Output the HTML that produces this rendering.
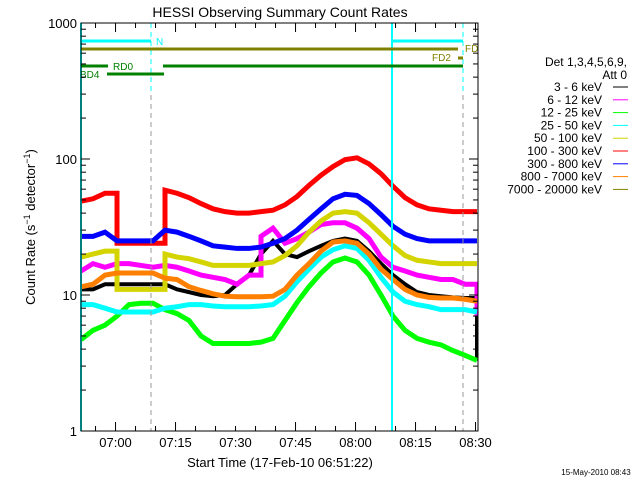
<!DOCTYPE html>
<html><head><meta charset="utf-8"><style>
body{margin:0;background:#fff;}
svg{display:block;font-family:"Liberation Sans",sans-serif;}
</style></head><body>
<svg id="chart" width="640" height="480" viewBox="0 0 640 480">
<rect width="640" height="480" fill="#fff"/>
<text x="280" y="17" font-size="14" text-anchor="middle">HESSI Observing Summary Count Rates</text>
<text transform="translate(35,227) rotate(-90)" font-size="13" text-anchor="middle">Count Rate (s<tspan baseline-shift="super" font-size="9">−1</tspan> detector<tspan baseline-shift="super" font-size="9">−1</tspan>)</text>
<text x="280" y="467" font-size="13" text-anchor="middle">Start Time (17-Feb-10 06:51:22)</text>
<text x="596" y="475" font-size="8" text-anchor="middle">15-May-2010 08:43</text>
<g id="plot"></g>
<g id="axes"></g>
<g id="legend"></g>
</svg>
<script>
const times=[0,3,6,9,12,15,18,21,24,27,30,33,36,39,42,45,48,51,54,57,60,63,66,69,72,75,78,81,84,87,90,93,96,99];
const seriesNames=["3 - 6 keV","6 - 12 keV","12 - 25 keV","25 - 50 keV","50 - 100 keV","100 - 300 keV","300 - 800 keV","800 - 7000 keV","7000 - 20000 keV"];
const seriesColors=["#000000","#ff00ff","#00ff00","#00ffff","#d4d400","#ff0000","#0000ff","#ff8000","#808000"];
const black=[11,11,12,12,12,12,12,12,11,10.5,10,9.8,10,12,14,20,25,20,19,21,23,25,26,25,21,17,14,12,10.5,10,9.8,9.6,9.5,3.3];
const magenta=[15,17,16,17,17,16.5,16,16.5,16,15,14,13.5,13,12,14,27,31,24,26,29,33,34,34,31,26,19,16,15,14,13.5,13,13,12,7];
const green=[4.7,5.5,6,7,8.5,8.7,8.7,7.8,7.3,6.5,5,4.4,4.4,4.4,4.4,4.5,4.8,6.5,8.8,11.5,14.5,17.5,18.7,17.5,14,10,7,5.5,4.8,4.5,4.3,3.9,3.6,3.3];
const cyan=[8.5,8.5,8,7.5,7.5,7.5,7.5,8,8.2,8.5,8.5,8.3,8.2,8.2,8.2,8.3,8.5,9.8,12.5,15.5,19,21.5,23,22,18,13.5,10.5,9,8.5,8.2,7.8,7.8,7.8,7.5];
const yellow=[19,20,21,11,11,11,11,20,19,18.5,17.5,16.5,16.5,16.5,16.5,17,17.5,19.5,23,29,35,40,41,40,34,28,23,19.5,18,17.5,17,17,17,17];
const red=[49,51,56,24,24,24,24,59,56,52,47,43,41,40,40,41,42,46,53,64,76,88,99,102,92,78,63,52,46,43,42,41,41,41];
const blue=[27,27,29,25,25,25,25,30,29,27,25,23,22.5,22,22,22.5,24,26,30,36,43,51,55,54,47,39,32,28,26,25,25,25,25,25];
const orange=[11.5,12,14,14.5,14.5,14.5,14.5,13.3,13,11.5,10.8,10.2,9.8,9.7,9.7,9.7,9.8,11,14,17,21,24.5,25,24,20,15.5,13,11,10,9.6,9.5,9.5,9.3,9];
const olive=[0.8,0.8,0.8,0.8,0.8,0.8,0.8,0.8,0.8,0.8,0.8,0.8,0.8,0.8,0.8,0.8,0.8,0.8,0.8,0.8,0.9,0.95,0.95,0.95,0.9,0.8,0.8,0.8,0.8,0.8,0.8,0.8,0.8,0.8];
const yTickVals=[1,10,100,1000];
const yTickLabels=["1","10","100","1000"];
const xTickMinutes=[8.633,23.633,38.633,53.633,68.633,83.633,98.633];
const xTickLabels=["07:00","07:15","07:30","07:45","08:00","08:15","08:30"];

const X0=81,X1=478,Y0=431,Y1=23,PXMIN=4,DEC=136;
const NS="http://www.w3.org/2000/svg";
function xs(t){return X0+t*PXMIN;}
function ys(v){return Y0-Math.log10(v)*DEC;}
function mk(tag,attrs,parent){const e=document.createElementNS(NS,tag);for(const k in attrs)e.setAttribute(k,attrs[k]);parent.appendChild(e);return e;}
const plot=document.getElementById('plot'),axes=document.getElementById('axes'),leg=document.getElementById('legend');
const defs=mk('defs',{},plot);const cp=mk('clipPath',{id:'cp'},defs);mk('rect',{x:X0,y:Y1,width:X1-X0,height:Y0-Y1},cp);
const g=mk('g',{'clip-path':'url(#cp)'},plot);
const allSeries=[black,magenta,green,cyan,yellow,red,blue,orange,olive];
allSeries.forEach((s,i)=>{
  let d='';
  for(let k=0;k<s.length;k++){
    const x=xs(times[k]),y=ys(s[k]);
    if(k===0)d+='M'+x+','+y;
    else{
      if(Math.abs(Math.log10(s[k]/s[k-1]))>0.2)d+='L'+x+','+ys(s[k-1])+'L'+x+','+y;
      else d+='L'+x+','+y;
    }
  }
  const p=mk('path',{d:d,fill:'none',stroke:seriesColors[i],'stroke-width':i===0?4:5,'stroke-linejoin':'miter'},g);
  
  
});
const v1=mk('line',{x1:392,y1:Y1,x2:392,y2:Y0,stroke:'#00ffff','stroke-width':2},plot);


const v0=mk('line',{x1:X0,y1:Y1,x2:X0,y2:Y0,stroke:'#00ffff','stroke-width':2},plot);


[151,463].forEach(x=>{
  const l=mk('line',{x1:x,y1:95,x2:x,y2:Y0,stroke:'#999','stroke-width':1,'stroke-dasharray':'5,4'},plot);
  
  
  const c=mk('line',{x1:x,y1:Y1,x2:x,y2:95,stroke:'#00ffff','stroke-width':1,'stroke-dasharray':'5,4'},plot);
  
  
});
const bars=[[81,151,41,'#00ffff'],[392,463,41,'#00ffff'],[81,458,49,'#808000'],[458,463,58,'#808000'],[81,108,66,'#008000'],[163,463,66,'#008000'],[107,164,74,'#008000']];
bars.forEach(b=>{
  const l=mk('line',{x1:b[0],y1:b[2],x2:b[1],y2:b[2],stroke:b[3],'stroke-width':3},plot);
  
  
});
const flags=[['N',156,45,'#00ffff'],['FD',465,52,'#808000'],['FD2',432,61,'#808000'],['RD0',113,70,'#008000'],['BD4',80,78,'#008000']];
flags.forEach(f=>{
  const t=mk('text',{x:f[1],y:f[2],fill:f[3],'font-size':10},plot);t.textContent=f[0];
  
  
});
const box=mk('rect',{x:X0,y:Y1,width:X1-X0,height:Y0-Y1,fill:'none',stroke:'#000','stroke-width':1},axes);


for(let dcd=0;dcd<3;dcd++){for(let m=1;m<=9;m++){
  const v=m*Math.pow(10,dcd);const y=ys(v);const len=m===1?9:5;
  mk('line',{x1:X0,y1:y,x2:X0+len,y2:y,stroke:'#000'},axes);
  mk('line',{x1:X1,y1:y,x2:X1-len,y2:y,stroke:'#000'},axes);
}}
yTickVals.forEach((v,i)=>{
  const t=mk('text',{x:X0-4,y:ys(v)+5,'font-size':13,'text-anchor':'end'},axes);t.textContent=yTickLabels[i];
  
  
});
for(let t=8.633-15;t<=99;t+=5){ if(t<0)continue;
  const x=xs(t);const major=Math.abs(((t-8.633)%15+15)%15)<0.01;const len=major?9:5;
  mk('line',{x1:x,y1:Y0,x2:x,y2:Y0-len,stroke:'#000'},axes);
  mk('line',{x1:x,y1:Y1,x2:x,y2:Y1+len,stroke:'#000'},axes);
}
xTickMinutes.forEach((m,i)=>{
  const t=mk('text',{x:xs(m),y:447,'font-size':13,'text-anchor':'middle'},axes);t.textContent=xTickLabels[i];
  
  
});
const h1=mk('text',{x:627,y:66,'font-size':12,'text-anchor':'end'},leg);h1.textContent='Det 1,3,4,5,6,9,';


const h2=mk('text',{x:627,y:79,'font-size':12,'text-anchor':'end'},leg);h2.textContent='Att 0';


seriesNames.forEach((n,i)=>{
  const y=87+i*12.8;
  const t=mk('text',{x:602,y:y+4,'font-size':12,'text-anchor':'end'},leg);t.textContent=n;
  
  
  const l=mk('line',{x1:613,y1:y,x2:628,y2:y,stroke:seriesColors[i],'stroke-width':1},leg);
  
  
});
</script>
</body></html>
